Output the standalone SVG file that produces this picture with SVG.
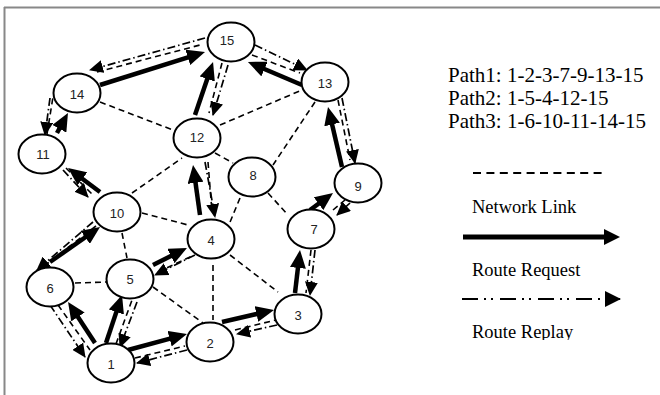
<svg xmlns="http://www.w3.org/2000/svg" width="660" height="395" viewBox="0 0 660 395">
<style>
.node ellipse{fill:#fff;stroke:#000;stroke-width:2}
.node text{font-family:"Liberation Sans",Arial,sans-serif;font-size:13px;fill:#222;text-anchor:middle;dominant-baseline:central}
.link{stroke:#000;stroke-width:1.6;stroke-dasharray:6 4;fill:none}
.req{stroke:#000;stroke-width:4.5;fill:none;marker-end:url(#ah)}
.rep{stroke:#000;stroke-width:1.7;stroke-dasharray:8 3 1.5 3;fill:none;marker-end:url(#ahs)}
.lg{font-family:"Liberation Serif","Times New Roman",serif;fill:#000}
</style>
<defs>
<marker id="ah" markerUnits="userSpaceOnUse" markerWidth="18" markerHeight="16" refX="11" refY="8" orient="auto"><path d="M0,0 L18,8 L0,16 z" fill="#000"/></marker>
<marker id="ahl" markerUnits="userSpaceOnUse" markerWidth="16" markerHeight="16" refX="9" refY="8" orient="auto"><path d="M0,0 L16,8 L0,16 z" fill="#000"/></marker>
<marker id="ahs" markerUnits="userSpaceOnUse" markerWidth="14" markerHeight="13" refX="13" refY="6.5" orient="auto"><path d="M0,0 L14,6.5 L0,13 z" fill="#000"/></marker>
<marker id="ahsl" markerUnits="userSpaceOnUse" markerWidth="16" markerHeight="16" refX="15" refY="8" orient="auto"><path d="M0,0 L16,8 L0,16 z" fill="#000"/></marker>
<clipPath id="cl"><rect x="440" y="310" width="200" height="30"/></clipPath>
</defs>
<rect width="660" height="395" fill="#fff"/>
<g id="frame" stroke="#888" stroke-width="2" fill="none">
<line x1="4" y1="7.5" x2="660" y2="7.5"/>
<line x1="4.5" y1="7" x2="4.5" y2="395"/>
</g>
<g id="connectors">
<line class="link" x1="100" y1="102" x2="173" y2="130"/>
<line class="link" x1="132" y1="193" x2="182" y2="158"/>
<line class="link" x1="220" y1="125" x2="302" y2="90"/>
<line class="link" x1="215" y1="153" x2="233" y2="163"/>
<line class="link" x1="315" y1="102" x2="273" y2="165"/>
<line class="link" x1="240" y1="198" x2="228" y2="227"/>
<line class="link" x1="268" y1="193" x2="288" y2="215"/>
<line class="link" x1="142" y1="213" x2="188" y2="225"/>
<line class="link" x1="122" y1="233" x2="127" y2="258"/>
<line class="link" x1="75" y1="283" x2="107" y2="282"/>
<line class="link" x1="153" y1="287" x2="203" y2="323"/>
<line class="link" x1="213" y1="265" x2="213" y2="320"/>
<line class="link" x1="230" y1="255" x2="278" y2="292"/>
<line class="link" x1="97" y1="72" x2="200" y2="45"/>
<line class="link" x1="252" y1="55" x2="300" y2="73"/>
<line class="link" x1="338" y1="100" x2="350" y2="160"/>
<line class="link" x1="222" y1="63" x2="209" y2="113"/>
<line class="link" x1="208" y1="162" x2="212" y2="212"/>
<line class="link" x1="135" y1="358" x2="185" y2="346"/>
<line class="link" x1="235" y1="330" x2="276" y2="320"/>
<line class="link" x1="311" y1="250" x2="306" y2="293"/>
<line class="link" x1="333" y1="210" x2="345" y2="200"/>
<line class="link" x1="116" y1="344" x2="132" y2="300"/>
<line class="link" x1="158" y1="272" x2="192" y2="256"/>
<line class="link" x1="58" y1="305" x2="90" y2="350"/>
<line class="link" x1="44" y1="266" x2="96" y2="226"/>
<line class="link" x1="66" y1="168" x2="92" y2="194"/>
<line class="link" x1="47" y1="134" x2="53" y2="97"/>
<line class="req" x1="128" y1="350" x2="180.2" y2="335.8"/>
<line class="req" x1="222" y1="322" x2="267.2" y2="311.6"/>
<line class="req" x1="295" y1="293" x2="299.2" y2="257"/>
<line class="req" x1="310" y1="210" x2="327.4" y2="197.2"/>
<line class="req" x1="342" y1="167" x2="329.6" y2="113.8"/>
<line class="req" x1="302" y1="85" x2="254.4" y2="64.7"/>
<line class="req" x1="106" y1="343" x2="119.8" y2="301.6"/>
<line class="req" x1="153" y1="265" x2="180.7" y2="251.1"/>
<line class="req" x1="200" y1="215" x2="194" y2="171.9"/>
<line class="req" x1="195" y1="115" x2="210.8" y2="68.6"/>
<line class="req" x1="95" y1="343" x2="71.9" y2="307.8"/>
<line class="req" x1="50" y1="262" x2="94.3" y2="231"/>
<line class="req" x1="100" y1="192" x2="73.6" y2="172.2"/>
<line class="req" x1="57" y1="133" x2="64.6" y2="119.1"/>
<line class="req" x1="100" y1="85" x2="198.3" y2="54.1"/>
<line class="rep" x1="187" y1="350" x2="137" y2="363"/>
<line class="rep" x1="277" y1="325" x2="237" y2="334"/>
<line class="rep" x1="315" y1="250" x2="310" y2="295"/>
<line class="rep" x1="350" y1="203" x2="337" y2="215"/>
<line class="rep" x1="342" y1="98" x2="355" y2="163"/>
<line class="rep" x1="255" y1="45" x2="307" y2="70"/>
<line class="rep" x1="137" y1="302" x2="120" y2="347"/>
<line class="rep" x1="195" y1="255" x2="155" y2="275"/>
<line class="rep" x1="205" y1="162" x2="215" y2="217"/>
<line class="rep" x1="228" y1="65" x2="213" y2="115"/>
<line class="rep" x1="50" y1="305" x2="85" y2="357"/>
<line class="rep" x1="93" y1="222" x2="37" y2="270"/>
<line class="rep" x1="63" y1="170" x2="88" y2="197"/>
<line class="rep" x1="50" y1="98" x2="45" y2="135"/>
<line class="rep" x1="205" y1="38" x2="90" y2="70"/>
</g>
<g id="n1" class="node"><ellipse cx="111" cy="363" rx="23.5" ry="19.5"/><text x="111" y="364">1</text></g>
<g id="n2" class="node"><ellipse cx="210" cy="342" rx="23.5" ry="19.5"/><text x="210" y="343">2</text></g>
<g id="n3" class="node"><ellipse cx="298" cy="314" rx="23.5" ry="19.5"/><text x="298" y="315">3</text></g>
<g id="n4" class="node"><ellipse cx="211" cy="239" rx="23.5" ry="19.5"/><text x="211" y="240">4</text></g>
<g id="n5" class="node"><ellipse cx="130" cy="279" rx="23.5" ry="19.5"/><text x="130" y="279">5</text></g>
<g id="n6" class="node"><ellipse cx="50" cy="287" rx="23.5" ry="19.5"/><text x="50" y="288">6</text></g>
<g id="n7" class="node"><ellipse cx="311" cy="229" rx="23.5" ry="19.5"/><text x="314" y="229">7</text></g>
<g id="n8" class="node"><ellipse cx="252" cy="177" rx="23.5" ry="19.5"/><text x="253" y="175">8</text></g>
<g id="n9" class="node"><ellipse cx="358" cy="183" rx="23.5" ry="19.5"/><text x="358" y="186">9</text></g>
<g id="n10" class="node"><ellipse cx="117" cy="212" rx="23.5" ry="19.5"/><text x="117" y="213">10</text></g>
<g id="n11" class="node"><ellipse cx="42" cy="154" rx="23.5" ry="19.5"/><text x="43" y="154">11</text></g>
<g id="n12" class="node"><ellipse cx="197" cy="138" rx="23.5" ry="19.5"/><text x="197" y="137">12</text></g>
<g id="n13" class="node"><ellipse cx="325" cy="82" rx="23.5" ry="19.5"/><text x="325" y="83">13</text></g>
<g id="n14" class="node"><ellipse cx="77" cy="93" rx="23.5" ry="19.5"/><text x="77" y="94">14</text></g>
<g id="n15" class="node"><ellipse cx="231" cy="42" rx="23.5" ry="19.5"/><text x="227" y="40">15</text></g>
<g id="legend">
<text class="lg" x="448" y="82" font-size="21">Path1: 1-2-3-7-9-13-15</text>
<text class="lg" x="448" y="105" font-size="21">Path2: 1-5-4-12-15</text>
<text class="lg" x="448" y="128" font-size="21">Path3: 1-6-10-11-14-15</text>
<line x1="473" y1="173" x2="607" y2="173" stroke="#000" stroke-width="2.2" stroke-dasharray="8 5.4"/>
<text class="lg" x="472" y="213" font-size="18.5">Network Link</text>
<line x1="463" y1="237" x2="613" y2="237" stroke="#000" stroke-width="5" marker-end="url(#ahl)"/>
<text class="lg" x="472" y="276" font-size="18.5">Route Request</text>
<line x1="462" y1="299" x2="620" y2="299" stroke="#000" stroke-width="2" stroke-dasharray="16 6 2 5 2 7" marker-end="url(#ahsl)"/>
<text class="lg" x="472" y="338" font-size="18.5" clip-path="url(#cl)">Route Replay</text>
</g>
</svg>
